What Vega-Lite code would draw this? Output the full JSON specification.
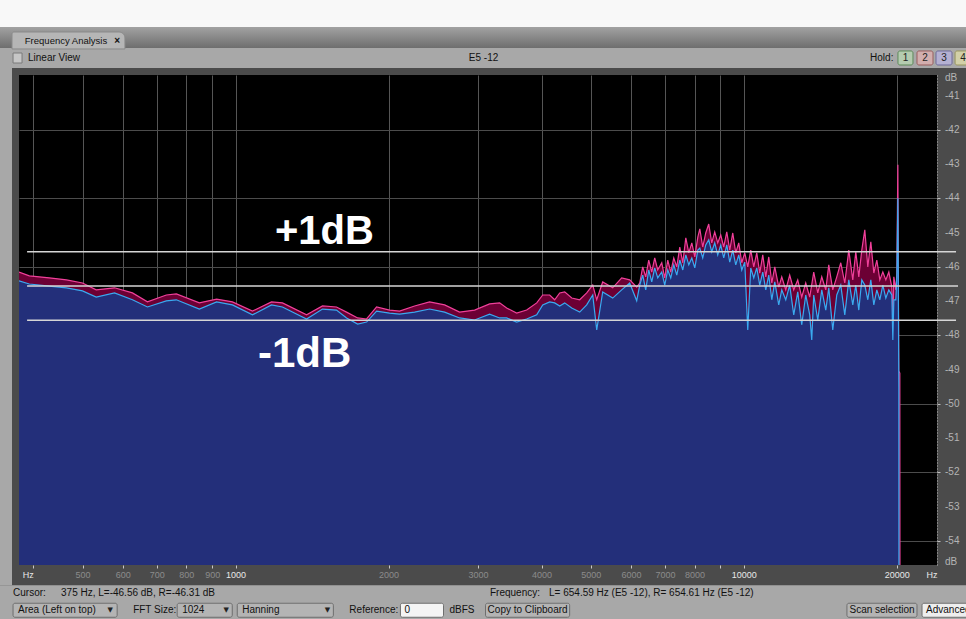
{
  "$schema": "https://vega.github.io/schema/vega-lite/v6.json",
  "width": 918,
  "height": 490,
  "autosize": {"type": "none"},
  "padding": {"left": 19, "top": 75, "right": 29, "bottom": 54},
  "background": "#4b4b4b",
  "config": {"view": {"fill": "#000000", "stroke": null}},
  "datasets": {
    "right": [
      {"freq":375,"db":-46.15},{"freq":393,"db":-46.26},{"freq":430,"db":-46.32},{"freq":465,"db":-46.38},{"freq":500,"db":-46.47},{"freq":532,"db":-46.67},{"freq":578,"db":-46.61},{"freq":627,"db":-46.76},{"freq":671,"db":-47.02},{"freq":731,"db":-46.82},{"freq":765,"db":-46.79},{"freq":849,"db":-47.05},{"freq":918,"db":-46.94},{"freq":986,"db":-47.02},{"freq":1080,"db":-47.29},{"freq":1177,"db":-47.02},{"freq":1237,"db":-47.05},{"freq":1380,"db":-47.40},{"freq":1483,"db":-47.14},{"freq":1580,"db":-47.17},{"freq":1654,"db":-47.32},{"freq":1739,"db":-47.49},{"freq":1811,"db":-47.52},{"freq":1895,"db":-47.17},{"freq":2010,"db":-47.26},{"freq":2103,"db":-47.29},{"freq":2251,"db":-47.14},{"freq":2409,"db":-47.02},{"freq":2579,"db":-47.11},{"freq":2760,"db":-47.32},{"freq":2954,"db":-47.26},{"freq":3162,"db":-47.08},{"freq":3309,"db":-47.05},{"freq":3416,"db":-47.20},{"freq":3574,"db":-47.35},{"freq":3740,"db":-47.26},{"freq":3914,"db":-47.05},{"freq":4022,"db":-46.82},{"freq":4151,"db":-46.82},{"freq":4246,"db":-46.96},{"freq":4344,"db":-46.76},{"freq":4443,"db":-46.73},{"freq":4587,"db":-46.91},{"freq":4756,"db":-46.96},{"freq":4909,"db":-46.76},{"freq":5045,"db":-46.53},{"freq":5137,"db":-46.96},{"freq":5278,"db":-46.44},{"freq":5523,"db":-46.61},{"freq":5752,"db":-46.32},{"freq":5965,"db":-46.38},{"freq":6157,"db":-46.59},
      {"freq":6242,"db":-46.47},{"freq":6327,"db":-46.00},{"freq":6414,"db":-46.29},{"freq":6502,"db":-45.80},{"freq":6591,"db":-46.15},{"freq":6681,"db":-45.74},{"freq":6773,"db":-46.09},{"freq":6897,"db":-45.88},{"freq":6991,"db":-46.32},{"freq":7087,"db":-45.80},{"freq":7184,"db":-46.15},{"freq":7283,"db":-45.74},{"freq":7383,"db":-46.00},{"freq":7484,"db":-45.42},{"freq":7587,"db":-45.88},{"freq":7691,"db":-45.15},{"freq":7796,"db":-45.59},{"freq":7903,"db":-45.30},{"freq":8011,"db":-45.71},{"freq":8121,"db":-45.13},{"freq":8195,"db":-44.89},{"freq":8304,"db":-45.42},{"freq":8418,"db":-45.01},{"freq":8533,"db":-44.75},{"freq":8650,"db":-45.30},{"freq":8768,"db":-44.98},{"freq":8888,"db":-45.30},{"freq":9010,"db":-45.07},{"freq":9133,"db":-45.42},{"freq":9259,"db":-44.98},{"freq":9385,"db":-45.51},{"freq":9514,"db":-45.01},{"freq":9644,"db":-45.59},{"freq":9776,"db":-45.30},{"freq":9910,"db":-45.88},{"freq":10045,"db":-45.59},{"freq":10183,"db":-46.00},{"freq":10322,"db":-45.51},{"freq":10464,"db":-46.00},{"freq":10607,"db":-45.59},{"freq":10752,"db":-46.18},{"freq":10899,"db":-45.65},{"freq":11049,"db":-46.29},{"freq":11200,"db":-45.71},{"freq":11354,"db":-46.47},{"freq":11509,"db":-46.00},{"freq":11718,"db":-46.59},{"freq":11879,"db":-46.29},{"freq":12096,"db":-46.67},{"freq":12314,"db":-46.24},{"freq":12541,"db":-46.67},{"freq":12771,"db":-46.38},{"freq":13003,"db":-46.88},{"freq":13242,"db":-46.47},{"freq":13484,"db":-46.88},{"freq":13731,"db":-46.15},{"freq":13983,"db":-46.76},{"freq":14239,"db":-46.29},{"freq":14500,"db":-46.67},{"freq":14698,"db":-45.94},{"freq":14967,"db":-46.67},{"freq":15241,"db":-46.29},{"freq":15520,"db":-45.88},{"freq":15804,"db":-46.47},{"freq":16093,"db":-45.51},{"freq":16388,"db":-46.38},{"freq":16612,"db":-45.56},{"freq":16840,"db":-46.29},{"freq":17070,"db":-45.51},{"freq":17304,"db":-44.92},{"freq":17541,"db":-46.00},{"freq":17783,"db":-45.27},{"freq":18026,"db":-46.18},{"freq":18273,"db":-45.80},{"freq":18523,"db":-46.38},{"freq":18777,"db":-46.15},{"freq":19034,"db":-46.38},{"freq":19294,"db":-46.15},{"freq":19558,"db":-46.59},{"freq":19647,"db":-47.64},{"freq":19737,"db":-46.29},{"freq":19917,"db":-46.67},{"freq":20008,"db":-46.2},{"freq":20100,"db":-43.02},{"freq":20190,"db":-49.04},{"freq":20280,"db":-49.1},{"freq":20370,"db":-95}
    ],
    "left": [
      {"freq":375,"db":-46.41},{"freq":393,"db":-46.50},{"freq":430,"db":-46.56},{"freq":465,"db":-46.61},{"freq":500,"db":-46.70},{"freq":532,"db":-46.88},{"freq":578,"db":-46.76},{"freq":627,"db":-46.96},{"freq":671,"db":-47.17},{"freq":731,"db":-46.99},{"freq":765,"db":-46.96},{"freq":849,"db":-47.23},{"freq":918,"db":-47.02},{"freq":986,"db":-47.11},{"freq":1080,"db":-47.40},{"freq":1177,"db":-47.11},{"freq":1237,"db":-47.17},{"freq":1380,"db":-47.52},{"freq":1483,"db":-47.23},{"freq":1580,"db":-47.26},{"freq":1654,"db":-47.49},{"freq":1739,"db":-47.67},{"freq":1811,"db":-47.61},{"freq":1895,"db":-47.29},{"freq":2010,"db":-47.35},{"freq":2103,"db":-47.38},{"freq":2251,"db":-47.32},{"freq":2409,"db":-47.23},{"freq":2579,"db":-47.32},{"freq":2760,"db":-47.49},{"freq":2954,"db":-47.55},{"freq":3162,"db":-47.38},{"freq":3309,"db":-47.49},{"freq":3416,"db":-47.49},{"freq":3574,"db":-47.61},{"freq":3740,"db":-47.52},{"freq":3914,"db":-47.40},{"freq":4022,"db":-47.11},{"freq":4151,"db":-47.02},{"freq":4246,"db":-47.05},{"freq":4344,"db":-47.14},{"freq":4443,"db":-47.05},{"freq":4587,"db":-47.20},{"freq":4756,"db":-47.32},{"freq":4909,"db":-47.11},{"freq":5045,"db":-46.82},{"freq":5137,"db":-47.84},{"freq":5278,"db":-46.73},{"freq":5523,"db":-46.91},{"freq":5752,"db":-46.67},{"freq":5965,"db":-46.47},{"freq":6157,"db":-46.99},
      {"freq":6242,"db":-46.53},{"freq":6327,"db":-46.24},{"freq":6414,"db":-46.67},{"freq":6502,"db":-46.09},{"freq":6591,"db":-46.44},{"freq":6681,"db":-46.03},{"freq":6773,"db":-46.32},{"freq":6897,"db":-46.15},{"freq":6991,"db":-46.53},{"freq":7087,"db":-46.09},{"freq":7184,"db":-46.32},{"freq":7283,"db":-45.94},{"freq":7383,"db":-46.24},{"freq":7484,"db":-45.80},{"freq":7587,"db":-46.09},{"freq":7691,"db":-45.65},{"freq":7796,"db":-45.94},{"freq":7903,"db":-45.74},{"freq":8011,"db":-46.03},{"freq":8121,"db":-45.51},{"freq":8195,"db":-45.45},{"freq":8304,"db":-45.74},{"freq":8418,"db":-45.36},{"freq":8533,"db":-45.21},{"freq":8650,"db":-45.56},{"freq":8768,"db":-45.30},{"freq":8888,"db":-45.65},{"freq":9010,"db":-45.36},{"freq":9133,"db":-45.74},{"freq":9259,"db":-45.36},{"freq":9385,"db":-45.86},{"freq":9514,"db":-45.51},{"freq":9644,"db":-45.94},{"freq":9776,"db":-45.65},{"freq":9910,"db":-46.09},{"freq":10045,"db":-45.86},{"freq":10183,"db":-47.84},{"freq":10322,"db":-46.03},{"freq":10464,"db":-46.32},{"freq":10607,"db":-46.03},{"freq":10752,"db":-46.53},{"freq":10899,"db":-46.15},{"freq":11049,"db":-46.67},{"freq":11200,"db":-46.24},{"freq":11354,"db":-46.96},{"freq":11509,"db":-46.44},{"freq":11718,"db":-47.11},{"freq":11879,"db":-46.67},{"freq":12096,"db":-46.96},{"freq":12314,"db":-46.53},{"freq":12541,"db":-47.40},{"freq":12771,"db":-46.73},{"freq":13003,"db":-47.69},{"freq":13242,"db":-46.82},{"freq":13484,"db":-47.40},{"freq":13607,"db":-48.13},{"freq":13731,"db":-46.82},{"freq":13983,"db":-47.55},{"freq":14239,"db":-46.67},{"freq":14500,"db":-47.26},{"freq":14698,"db":-46.61},{"freq":14967,"db":-47.84},{"freq":15241,"db":-46.82},{"freq":15520,"db":-46.53},{"freq":15804,"db":-47.40},{"freq":16093,"db":-46.38},{"freq":16388,"db":-47.11},{"freq":16612,"db":-46.53},{"freq":16840,"db":-47.26},{"freq":17070,"db":-46.38},{"freq":17304,"db":-46.53},{"freq":17541,"db":-46.96},{"freq":17783,"db":-46.38},{"freq":18026,"db":-47.11},{"freq":18273,"db":-46.67},{"freq":18523,"db":-46.96},{"freq":18777,"db":-46.53},{"freq":19034,"db":-46.91},{"freq":19294,"db":-46.67},{"freq":19558,"db":-46.82},{"freq":19647,"db":-48.13},{"freq":19737,"db":-46.96},{"freq":19917,"db":-46.96},{"freq":20008,"db":-46.3},{"freq":20100,"db":-44.0},{"freq":20190,"db":-49.5},{"freq":20280,"db":-95}
    ],
    "yticks": [
      {"v": -40.49, "label": "dB"},
      {"v": -41, "label": "-41"}, {"v": -42, "label": "-42"}, {"v": -43, "label": "-43"}, {"v": -44, "label": "-44"},
      {"v": -45, "label": "-45"}, {"v": -46, "label": "-46"}, {"v": -47, "label": "-47"}, {"v": -48, "label": "-48"},
      {"v": -49, "label": "-49"}, {"v": -50, "label": "-50"}, {"v": -51, "label": "-51"}, {"v": -52, "label": "-52"},
      {"v": -53, "label": "-53"}, {"v": -54, "label": "-54"},
      {"v": -54.62, "label": "dB"}
    ]
  },
  "layer": [
    {
      "data": {"name": "right"},
      "mark": {"type": "area", "color": "#6c0034", "clip": true},
      "encoding": {
        "x": {
          "field": "freq", "type": "quantitative",
          "scale": {"type": "log", "domain": [375, 24000], "nice": false},
          "axis": {
            "values": [400,500,600,700,800,900,1000,2000,3000,4000,5000,6000,7000,8000,9000,10000,20000,24000],
            "labelExpr": "datum.value == 400 || datum.value == 24000 ? 'Hz' : (datum.value == 9000 ? '' : '' + datum.value)",
            "title": null, "domain": false, "grid": true, "gridColor": "#555555", "gridWidth": 1,
            "gridOpacity": {"condition": {"test": "datum.value == 24000", "value": 0}, "value": 1},
            "tickColor": "#c8c8c8", "tickSize": 3,
            "tickOpacity": {"condition": {"test": "datum.value == 24000", "value": 0}, "value": 1},
            "labelColor": {"condition": {"test": "datum.value == 400 || datum.value == 1000 || datum.value == 10000 || datum.value == 20000 || datum.value == 24000", "value": "#e8e8e8"}, "value": "#8c8c8c"},
            "labelAlign": {"condition": {"test": "datum.value == 400 || datum.value == 24000", "value": "right"}, "value": "center"},
            "labelFont": "Liberation Sans", "labelFontSize": 9, "labelPadding": 2,
            "labelOverlap": false, "labelFlush": false
          }
        },
        "y": {
          "field": "db", "type": "quantitative",
          "scale": {"domain": [-54.70, -40.40], "nice": false, "zero": false},
          "axis": {
            "orient": "right",
            "values": [-41,-42,-43,-44,-45,-46,-47,-48,-49,-50,-51,-52,-53,-54],
            "labels": false,
            "title": null, "grid": true, "gridColor": "#4c4c4c",
            "domain": true, "domainColor": "#bdbdbd", "domainDash": [1, 2], "domainWidth": 1,
            "tickColor": "#bdbdbd", "tickSize": 3
          }
        },
        "y2": {"datum": -60}
      }
    },
    {
      "data": {"name": "right"},
      "mark": {"type": "line", "color": "#f0409a", "strokeWidth": 1.2, "clip": true},
      "encoding": {
        "x": {"field": "freq", "type": "quantitative"},
        "y": {"field": "db", "type": "quantitative"}
      }
    },
    {
      "data": {"name": "left"},
      "mark": {"type": "area", "color": "#232f7a", "clip": true},
      "encoding": {
        "x": {"field": "freq", "type": "quantitative"},
        "y": {"field": "db", "type": "quantitative"},
        "y2": {"datum": -60}
      }
    },
    {
      "data": {"name": "left"},
      "mark": {"type": "line", "color": "#3aaaf0", "strokeWidth": 1.2, "clip": true},
      "encoding": {
        "x": {"field": "freq", "type": "quantitative"},
        "y": {"field": "db", "type": "quantitative"}
      }
    },
    {
      "data": {"name": "yticks"},
      "mark": {"type": "text", "align": "left", "baseline": "middle", "dx": 8, "font": "Liberation Sans", "fontSize": 10, "color": "#b4b4b4"},
      "encoding": {
        "x": {"datum": 24000},
        "y": {"field": "v", "type": "quantitative"},
        "text": {"field": "label", "type": "nominal"}
      }
    },
    {
      "data": {"values": [{}]},
      "mark": {"type": "rule", "color": "#d6d6d6", "strokeWidth": 1.5},
      "encoding": {"x": {"datum": 389}, "x2": {"datum": 26160}, "y": {"datum": -45.56}}
    },
    {
      "data": {"values": [{}]},
      "mark": {"type": "rule", "color": "#d6d6d6", "strokeWidth": 1.5},
      "encoding": {"x": {"datum": 389}, "x2": {"datum": 26400}, "y": {"datum": -46.56}}
    },
    {
      "data": {"values": [{}]},
      "mark": {"type": "rule", "color": "#d6d6d6", "strokeWidth": 1.5},
      "encoding": {"x": {"datum": 389}, "x2": {"datum": 26160}, "y": {"datum": -47.56}}
    },
    {
      "data": {"values": [{}]},
      "mark": {"type": "text", "text": "+1dB", "align": "left", "baseline": "alphabetic", "font": "Liberation Sans", "fontWeight": "bold", "fontSize": 40, "color": "#ffffff"},
      "encoding": {"x": {"datum": 1196}, "y": {"datum": -45.334}}
    },
    {
      "data": {"values": [{}]},
      "mark": {"type": "text", "text": "-1dB", "align": "left", "baseline": "alphabetic", "font": "Liberation Sans", "fontWeight": "bold", "fontSize": 42, "color": "#ffffff"},
      "encoding": {"x": {"datum": 1107}, "y": {"datum": -48.926}}
    },
    {
      "data": {"values": [{}]},
      "mark": {"type": "rect", "fill": "#a8a8a8"},
      "encoding": {"x": {"datum": 340}, "x2": {"datum": 28500}, "y": {"datum": -38.0}, "y2": {"datum": -40.196}}
    },
    {
      "data": {"values": [{}]},
      "mark": {"type": "rect", "fill": "#f8f8f8"},
      "encoding": {"x": {"datum": 340}, "x2": {"datum": 28500}, "y": {"datum": -38.0}, "y2": {"datum": -38.999}}
    },
    {
      "data": {"values": [{}]},
      "mark": {"type": "rect", "fill": {"gradient": "linear", "x1": 0, "y1": 0, "x2": 0, "y2": 1, "stops": [{"offset": 0, "color": "#a2a2a2"}, {"offset": 1, "color": "#6e6e6e"}]}},
      "encoding": {"x": {"datum": 340}, "x2": {"datum": 28500}, "y": {"datum": -38.999}, "y2": {"datum": -39.612}}
    },
    {
      "data": {"values": [{}]},
      "mark": {"type": "rect", "fill": "#b6b6b6", "stroke": "#8a8a8a", "cornerRadiusTopRight": 6, "cornerRadiusTopLeft": 2},
      "encoding": {"x": {"datum": 363.3}, "x2": {"datum": 606}, "y": {"datum": -39.145}, "y2": {"datum": -39.64}}
    },
    {
      "data": {"values": [{}]},
      "mark": {"type": "rect", "fill": "#a8a8a8"},
      "encoding": {"x": {"datum": 340}, "x2": {"datum": 363.3}, "y": {"datum": -40.196}, "y2": {"datum": -55.29}}
    },
    {
      "data": {"values": [{}]},
      "mark": {"type": "rect", "fill": "#a8a8a8"},
      "encoding": {"x": {"datum": 340}, "x2": {"datum": 28500}, "y": {"datum": -55.29}, "y2": {"datum": -56.5}}
    },
    {
      "data": {"values": [{}]},
      "mark": {"type": "rect", "fill": "#c6c6c6", "stroke": "#7a7a7a"},
      "encoding": {"x": {"datum": 365}, "x2": {"datum": 380.2}, "y": {"datum": -39.758}, "y2": {"datum": -40.05}}
    },
    {
      "data": {"values": [{}]},
      "mark": {"type": "rect", "fill": "#b5ccb0", "stroke": "#5e8a5a", "cornerRadius": 2},
      "encoding": {"x": {"datum": 20110}, "x2": {"datum": 21525}, "y": {"datum": -39.699}, "y2": {"datum": -40.108}}
    },
    {
      "data": {"values": [{}]},
      "mark": {"type": "rect", "fill": "#d2aeae", "stroke": "#9a5e5e", "cornerRadius": 2},
      "encoding": {"x": {"datum": 21920}, "x2": {"datum": 23570}, "y": {"datum": -39.699}, "y2": {"datum": -40.108}}
    },
    {
      "data": {"values": [{}]},
      "mark": {"type": "rect", "fill": "#b4b0d2", "stroke": "#6e6a9a", "cornerRadius": 2},
      "encoding": {"x": {"datum": 23890}, "x2": {"datum": 25690}, "y": {"datum": -39.699}, "y2": {"datum": -40.108}}
    },
    {
      "data": {"values": [{}]},
      "mark": {"type": "rect", "fill": "#d2d0a8", "stroke": "#9a965e", "cornerRadius": 2},
      "encoding": {"x": {"datum": 26050}, "x2": {"datum": 28500}, "y": {"datum": -39.699}, "y2": {"datum": -40.108}}
    },
    {
      "data": {"values": [{}]},
      "mark": {"type": "rect", "fill": "#b4b4b4", "stroke": "#6e6e6e", "cornerRadius": 2},
      "encoding": {"x": {"datum": 365}, "x2": {"datum": 585}, "y": {"datum": -55.816}, "y2": {"datum": -56.225}}
    },
    {
      "data": {"values": [{}]},
      "mark": {"type": "rect", "fill": "#b4b4b4", "stroke": "#6e6e6e", "cornerRadius": 2},
      "encoding": {"x": {"datum": 767.8}, "x2": {"datum": 985.4}, "y": {"datum": -55.816}, "y2": {"datum": -56.225}}
    },
    {
      "data": {"values": [{}]},
      "mark": {"type": "rect", "fill": "#b4b4b4", "stroke": "#6e6e6e", "cornerRadius": 2},
      "encoding": {"x": {"datum": 1008}, "x2": {"datum": 1558}, "y": {"datum": -55.816}, "y2": {"datum": -56.225}}
    },
    {
      "data": {"values": [{}]},
      "mark": {"type": "rect", "fill": "#f4f4f4", "stroke": "#6e6e6e", "cornerRadius": 2},
      "encoding": {"x": {"datum": 2111}, "x2": {"datum": 2566}, "y": {"datum": -55.816}, "y2": {"datum": -56.225}}
    },
    {
      "data": {"values": [{}]},
      "mark": {"type": "rect", "fill": "#b4b4b4", "stroke": "#6e6e6e", "cornerRadius": 2},
      "encoding": {"x": {"datum": 3104}, "x2": {"datum": 4544}, "y": {"datum": -55.816}, "y2": {"datum": -56.225}}
    },
    {
      "data": {"values": [{}]},
      "mark": {"type": "rect", "fill": "#b4b4b4", "stroke": "#6e6e6e", "cornerRadius": 2},
      "encoding": {"x": {"datum": 15960}, "x2": {"datum": 21920}, "y": {"datum": -55.816}, "y2": {"datum": -56.225}}
    },
    {
      "data": {"values": [{}]},
      "mark": {"type": "rect", "fill": "#eeeeee", "stroke": "#6e6e6e", "cornerRadius": 2},
      "encoding": {"x": {"datum": 22425}, "x2": {"datum": 28500}, "y": {"datum": -55.816}, "y2": {"datum": -56.225}}
    },
    {"data": {"values": [{}]}, "mark": {"type": "text", "text": "Frequency Analysis", "align": "left", "baseline": "middle", "font": "Liberation Sans", "fontSize": 9.5, "color": "#111111"}, "encoding": {"x": {"datum": 385}, "y": {"datum": -39.407}}},
    {"data": {"values": [{}]}, "mark": {"type": "text", "text": "×", "align": "center", "baseline": "middle", "font": "Liberation Sans", "fontWeight": "bold", "fontSize": 10, "color": "#111111"}, "encoding": {"x": {"datum": 585}, "y": {"datum": -39.407}}},
    {"data": {"values": [{}]}, "mark": {"type": "text", "text": "Linear View", "align": "left", "baseline": "middle", "font": "Liberation Sans", "fontSize": 10, "color": "#111111"}, "encoding": {"x": {"datum": 390.6}, "y": {"datum": -39.918}}},
    {"data": {"values": [{}]}, "mark": {"type": "text", "text": "E5 -12", "align": "center", "baseline": "middle", "font": "Liberation Sans", "fontSize": 10, "color": "#111111"}, "encoding": {"x": {"datum": 3076}, "y": {"datum": -39.918}}},
    {"data": {"values": [{}]}, "mark": {"type": "text", "text": "Hold:", "align": "right", "baseline": "middle", "font": "Liberation Sans", "fontSize": 10, "color": "#111111"}, "encoding": {"x": {"datum": 19700}, "y": {"datum": -39.918}}},
    {"data": {"values": [{}]}, "mark": {"type": "text", "text": "1", "align": "center", "baseline": "middle", "font": "Liberation Sans", "fontSize": 10, "color": "#222222"}, "encoding": {"x": {"datum": 20810}, "y": {"datum": -39.918}}},
    {"data": {"values": [{}]}, "mark": {"type": "text", "text": "2", "align": "center", "baseline": "middle", "font": "Liberation Sans", "fontSize": 10, "color": "#222222"}, "encoding": {"x": {"datum": 22730}, "y": {"datum": -39.918}}},
    {"data": {"values": [{}]}, "mark": {"type": "text", "text": "3", "align": "center", "baseline": "middle", "font": "Liberation Sans", "fontSize": 10, "color": "#222222"}, "encoding": {"x": {"datum": 24780}, "y": {"datum": -39.918}}},
    {"data": {"values": [{}]}, "mark": {"type": "text", "text": "4", "align": "center", "baseline": "middle", "font": "Liberation Sans", "fontSize": 10, "color": "#222222"}, "encoding": {"x": {"datum": 27000}, "y": {"datum": -39.918}}},
    {"data": {"values": [{}]}, "mark": {"type": "text", "text": "Cursor:", "align": "left", "baseline": "middle", "font": "Liberation Sans", "fontSize": 10, "color": "#111111"}, "encoding": {"x": {"datum": 365}, "y": {"datum": -55.51}}},
    {"data": {"values": [{}]}, "mark": {"type": "text", "text": "375 Hz, L=-46.56 dB, R=-46.31 dB", "align": "left", "baseline": "middle", "font": "Liberation Sans", "fontSize": 10, "color": "#111111"}, "encoding": {"x": {"datum": 453.6}, "y": {"datum": -55.51}}},
    {"data": {"values": [{}]}, "mark": {"type": "text", "text": "Frequency:", "align": "left", "baseline": "middle", "font": "Liberation Sans", "fontSize": 10, "color": "#111111"}, "encoding": {"x": {"datum": 3167}, "y": {"datum": -55.51}}},
    {"data": {"values": [{}]}, "mark": {"type": "text", "text": "L= 654.59 Hz (E5 -12), R= 654.61 Hz (E5 -12)", "align": "left", "baseline": "middle", "font": "Liberation Sans", "fontSize": 10, "color": "#111111"}, "encoding": {"x": {"datum": 4139}, "y": {"datum": -55.51}}},
    {"data": {"values": [{}]}, "mark": {"type": "text", "text": "Area (Left on top)", "align": "left", "baseline": "middle", "font": "Liberation Sans", "fontSize": 10, "color": "#111111"}, "encoding": {"x": {"datum": 373.3}, "y": {"datum": -56.02}}},
    {"data": {"values": [{}]}, "mark": {"type": "text", "text": "▼", "align": "center", "baseline": "middle", "font": "DejaVu Sans", "fontSize": 7, "color": "#222222"}, "encoding": {"x": {"datum": 566.6}, "y": {"datum": -56.02}}},
    {"data": {"values": [{}]}, "mark": {"type": "text", "text": "FFT Size:", "align": "left", "baseline": "middle", "font": "Liberation Sans", "fontSize": 10, "color": "#111111"}, "encoding": {"x": {"datum": 628.9}, "y": {"datum": -56.02}}},
    {"data": {"values": [{}]}, "mark": {"type": "text", "text": "1024", "align": "left", "baseline": "middle", "font": "Liberation Sans", "fontSize": 10, "color": "#111111"}, "encoding": {"x": {"datum": 785.4}, "y": {"datum": -56.02}}},
    {"data": {"values": [{}]}, "mark": {"type": "text", "text": "▼", "align": "center", "baseline": "middle", "font": "DejaVu Sans", "fontSize": 7, "color": "#222222"}, "encoding": {"x": {"datum": 959}, "y": {"datum": -56.02}}},
    {"data": {"values": [{}]}, "mark": {"type": "text", "text": "Hanning", "align": "left", "baseline": "middle", "font": "Liberation Sans", "fontSize": 10, "color": "#111111"}, "encoding": {"x": {"datum": 1031}, "y": {"datum": -56.02}}},
    {"data": {"values": [{}]}, "mark": {"type": "text", "text": "▼", "align": "center", "baseline": "middle", "font": "DejaVu Sans", "fontSize": 7, "color": "#222222"}, "encoding": {"x": {"datum": 1516}, "y": {"datum": -56.02}}},
    {"data": {"values": [{}]}, "mark": {"type": "text", "text": "Reference:", "align": "left", "baseline": "middle", "font": "Liberation Sans", "fontSize": 10, "color": "#111111"}, "encoding": {"x": {"datum": 1675}, "y": {"datum": -56.02}}},
    {"data": {"values": [{}]}, "mark": {"type": "text", "text": "0", "align": "left", "baseline": "middle", "font": "Liberation Sans", "fontSize": 10, "color": "#111111"}, "encoding": {"x": {"datum": 2150}, "y": {"datum": -56.02}}},
    {"data": {"values": [{}]}, "mark": {"type": "text", "text": "dBFS", "align": "left", "baseline": "middle", "font": "Liberation Sans", "fontSize": 10, "color": "#111111"}, "encoding": {"x": {"datum": 2637}, "y": {"datum": -56.02}}},
    {"data": {"values": [{}]}, "mark": {"type": "text", "text": "Copy to Clipboard", "align": "center", "baseline": "middle", "font": "Liberation Sans", "fontSize": 10, "color": "#111111"}, "encoding": {"x": {"datum": 3756}, "y": {"datum": -56.02}}},
    {"data": {"values": [{}]}, "mark": {"type": "text", "text": "Scan selection", "align": "center", "baseline": "middle", "font": "Liberation Sans", "fontSize": 10, "color": "#111111"}, "encoding": {"x": {"datum": 18705}, "y": {"datum": -56.02}}},
    {"data": {"values": [{}]}, "mark": {"type": "text", "text": "Advanced", "align": "left", "baseline": "middle", "font": "Liberation Sans", "fontSize": 10, "color": "#111111"}, "encoding": {"x": {"datum": 22840}, "y": {"datum": -56.02}}}
  ]
}
